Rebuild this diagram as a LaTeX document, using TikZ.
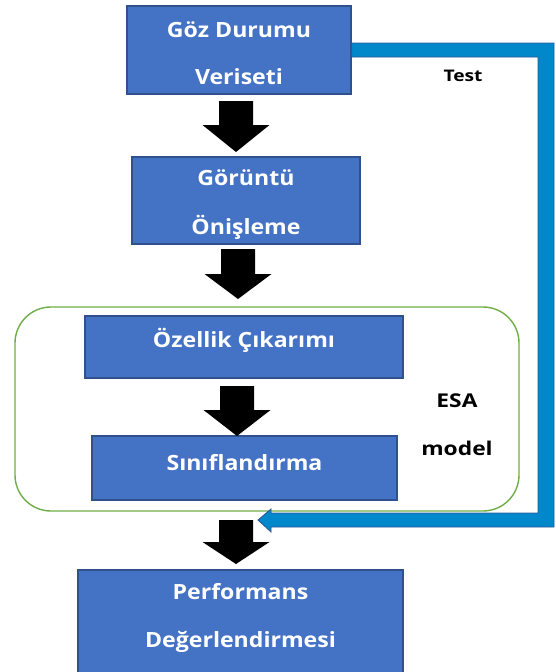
\documentclass[tikz,border=0pt]{standalone}
\usepackage{fontspec}
\setmainfont{Open Sans}
\newfontfamily\boxfont{Open Sans}[FakeStretch=1.1]
\newfontfamily\labfont{Open Sans}[FakeStretch=1.2]
\usetikzlibrary{calc}
\definecolor{boxblue}{HTML}{4472C4}
\definecolor{boxedge}{HTML}{2F528F}
\definecolor{bandblue}{HTML}{0088CB}
\definecolor{bandedge}{HTML}{2F5597}
\definecolor{modelgreen}{HTML}{70AD47}
\tikzset{
  stepbox/.style={rectangle, fill=boxblue, draw=boxedge, line width=1.5pt, inner sep=0pt,
    text=white, align=center, font=\boxfont\bfseries\fontsize{21}{47}\selectfont},
  blockfill/.style={fill=black},
  plainlabel/.style={text=black, font=\labfont\bfseries\fontsize{19}{22}\selectfont, inner sep=0pt},
}
% block arrow: name, x centre, y top, y head base, y tip
\newcommand\blockarrow[5]{%
  \coordinate (#1) at (#2,#3);
  \fill[blockfill] ($(#1)+(-17,0)$) -- ($(#1)+(17,0)$) -- ($(#1)+(17,#4-#3)$) -- ($(#1)+(33.5,#4-#3)$)
    -- ($(#1)+(0,#5-#3)$) -- ($(#1)+(-33.5,#4-#3)$) -- ($(#1)+(-17,#4-#3)$) -- cycle;}
\begin{document}
\begin{tikzpicture}[x=1pt,y=-1pt]
\useasboundingbox (0,0) rectangle (555,672);
% model frame
\node[draw=modelgreen, line width=1.4pt, rounded corners=36pt, minimum width=504pt, minimum height=204pt, inner sep=0pt] (frame) at (267,409) {};
% boxes
\node[stepbox, minimum width=224pt, minimum height=88pt, text height=68pt, text depth=0pt] (b1) at (239,50) {Göz Durumu\\Veriseti};
\node[stepbox, minimum width=228pt, minimum height=87pt, text height=67pt, text depth=0pt] (b2) at (246,200.5) {Görüntü\\[2pt]Önişleme};
\node[stepbox, minimum width=318pt, minimum height=62pt, text height=12pt, text depth=12pt] (b3) at (244,347) {Özellik Çıkarımı};
\node[stepbox, minimum width=305pt, minimum height=64pt, text height=14pt, text depth=10pt] (b4) at (244.5,468) {Sınıflandırma};
\node[stepbox, minimum width=325pt, anchor=north, inner ysep=14pt, text depth=45pt] (b5) at (240.5,569) {Performans\\[1pt]Değerlendirmesi};
% black block arrows
\blockarrow{a1}{236}{101}{125}{152}
\blockarrow{a2}{238}{249}{274}{299}
\blockarrow{a3}{237}{386}{410}{436}
\blockarrow{a4}{236}{520}{542}{564}
% test band arrow
\coordinate (tip) at (258,520);
\filldraw[fill=bandblue, draw=bandedge, line width=0.8pt, line join=miter]
  ($(b1.east)+(0,-7)$) -- (554,43) -- (554,527) -- ($(tip)+(13,7)$) -- ($(tip)+(13,12)$)
  -- (tip) -- ($(tip)+(13,-11)$) -- ($(tip)+(13,-7)$) -- (538,513) -- (538,57)
  -- ($(b1.east)+(0,7)$) -- cycle;
% labels
\node[plainlabel, font=\labfont\bfseries\fontsize{16}{20}\selectfont] (test) at (463,76) {Test};
\node[plainlabel] (esa) at (457,401) {ESA};
\node[plainlabel] (model) at (457,448) {model};
\end{tikzpicture}
\end{document}
